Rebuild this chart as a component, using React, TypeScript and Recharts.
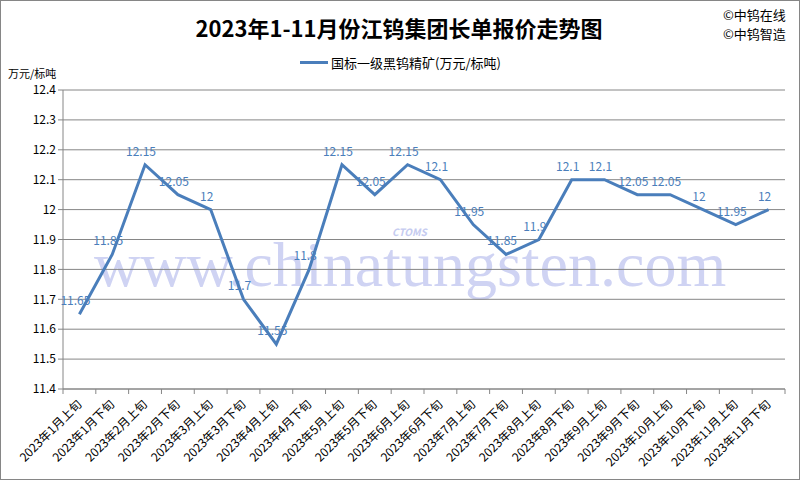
import React from 'react';
import { LineChart, Line, XAxis, YAxis, CartesianGrid, LabelList } from 'recharts';

const categories = [
  '2023年1月上旬', '2023年1月下旬', '2023年2月上旬', '2023年2月下旬', '2023年3月上旬', '2023年3月下旬',
  '2023年4月上旬', '2023年4月下旬', '2023年5月上旬', '2023年5月下旬', '2023年6月上旬', '2023年6月下旬',
  '2023年7月上旬', '2023年7月下旬', '2023年8月上旬', '2023年8月下旬', '2023年9月上旬', '2023年9月下旬',
  '2023年10月上旬', '2023年10月下旬', '2023年11月上旬', '2023年11月下旬',
];
const prices = [
  11.65, 11.85, 12.15, 12.05, 12, 11.7, 11.55, 11.8, 12.15, 12.05, 12.15,
  12.1, 11.95, 11.85, 11.9, 12.1, 12.1, 12.05, 12.05, 12, 11.95, 12,
];
const yTicks = [11.4, 11.5, 11.6, 11.7, 11.8, 11.9, 12, 12.1, 12.2, 12.3, 12.4];
const seriesName = '国标一级黑钨精矿(万元/标吨)';

const data = categories.map((c, i) => ({ name: c, price: prices[i] }));

if (typeof document !== 'undefined') document.body.style.margin = '0';

const FONT = '"Noto Sans CJK SC", "Noto Sans", sans-serif';
const LINE = '#4a7ebb';
const BAND = 722 / 22;

const XTick = ({ x, y, payload, index }: any) => (
  <g>
    <line x1={x - BAND / 2} y1={y - 8} x2={x - BAND / 2} y2={y - 3} stroke="#868686" />
    {index === categories.length - 1 && (
      <line x1={x + BAND / 2} y1={y - 8} x2={x + BAND / 2} y2={y - 3} stroke="#868686" />
    )}
    <text
      x={x + 3}
      y={y + 8}
      textAnchor="end"
      fontSize={12}
      fill="#000"
      fontFamily={FONT}
      transform={`rotate(-45, ${x + 3}, ${y + 8})`}
    >
      {payload.value}
    </text>
  </g>
);

const PointLabel = ({ x, y, value }: any) => (
  <text x={x - 4} y={y - 9} textAnchor="middle" fontSize={12} fill={LINE} fontFamily={FONT}>
    {value}
  </text>
);

export default function App() {
  return (
    <div style={{ position: 'relative', width: 800, height: 480, background: '#fff', fontFamily: FONT }}>
      {/* watermark */}
      <div style={{ position: 'absolute', left: 94, top: 228, fontFamily: '"Liberation Serif", serif', fontSize: 64, color: '#cfd3f3', whiteSpace: 'nowrap' }}>
        www.chinatungsten.com
      </div>
      <div style={{ position: 'absolute', left: 392, top: 224, fontFamily: FONT, fontStyle: 'italic', fontWeight: 700, fontSize: 10, color: '#c5cbf0' }}>
        CTOMS
      </div>
      <div style={{ position: 'absolute', left: 0, top: 0 }}>
        <LineChart width={800} height={480} data={data} margin={{ top: 90, right: 15, bottom: 0, left: 0 }}>
          <CartesianGrid vertical={false} stroke="#868686" />
          <XAxis
            dataKey="name"
            scale="band"
            interval={0}
            height={91}
            axisLine={{ stroke: '#868686' }}
            tickLine={false}
            tick={<XTick />}
          />
          <YAxis
            type="number"
            domain={[11.4, 12.4]}
            ticks={yTicks}
            width={63}
            axisLine={{ stroke: '#868686' }}
            tickLine={{ stroke: '#868686' }}
            tickSize={5}
            tick={{ fontSize: 12, fill: '#000', fontFamily: FONT }}
            tickFormatter={(v: number) => String(Math.round(v * 10) / 10)}
          />
          <Line
            type="linear"
            dataKey="price"
            name={seriesName}
            stroke={LINE}
            strokeWidth={3}
            dot={false}
            isAnimationActive={false}
          >
            <LabelList dataKey="price" content={<PointLabel />} />
          </Line>
        </LineChart>
      </div>
      <div style={{ position: 'absolute', left: 300, top: 53, display: 'flex', alignItems: 'center', fontSize: 13, color: '#000', whiteSpace: 'nowrap' }}>
        <span style={{ display: 'inline-block', width: 28, height: 3, background: LINE, marginRight: 3 }} />
        {seriesName}
      </div>
      <div style={{ position: 'absolute', left: 0, top: 12, width: 798, textAlign: 'center', fontSize: 22, lineHeight: '30px', fontWeight: 700, color: '#000' }}>
        2023年1-11月份江钨集团长单报价走势图
      </div>
      <div style={{ position: 'absolute', left: 723, top: 5, fontSize: 13, lineHeight: '19px', color: '#000' }}>
        <div>©中钨在线</div>
        <div>©中钨智造</div>
      </div>
      <div style={{ position: 'absolute', left: 8, top: 65, fontSize: 11, color: '#000' }}>万元/标吨</div>
      <div style={{ position: 'absolute', left: 0, top: 0, width: 800, height: 480, boxSizing: 'border-box', border: '1px solid #868686', pointerEvents: 'none' }} />
    </div>
  );
}
